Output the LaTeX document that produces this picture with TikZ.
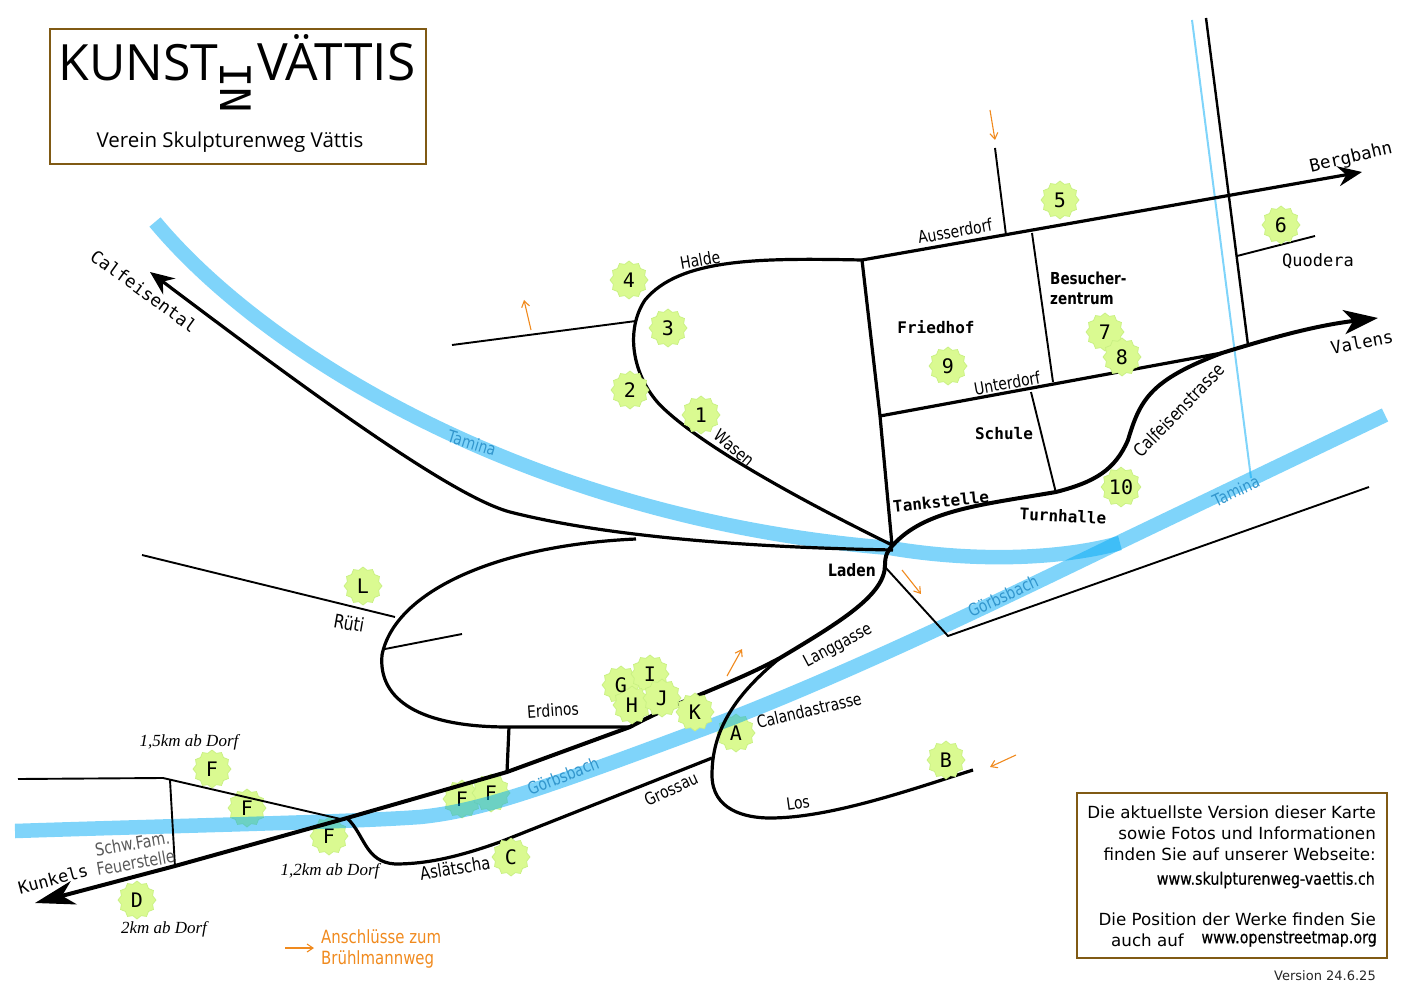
\documentclass[tikz,border=0pt]{standalone}
\usepackage{fontspec}
\usepackage{tikz}
\usetikzlibrary{shapes.geometric, arrows.meta, positioning}
\setmainfont{DejaVu Sans}
\newfontfamily\monofam{DejaVu Sans Mono}
\newfontfamily\titlefam{Open Sans}
\newfontfamily\timesfam{Liberation Serif}
\newfontfamily\condfam[FakeStretch=0.82]{DejaVu Sans}
\newfontfamily\urlfam[FakeStretch=0.84, FakeBold=0.6]{DejaVu Sans}
\newcommand{\fsz}[1]{\fontsize{#1}{#1}\selectfont}
\definecolor{riverblue}{RGB}{0, 169, 245}
\definecolor{riverlabel}{RGB}{50, 150, 205}
\definecolor{boxbrown}{RGB}{128, 90, 20}
\definecolor{hintorange}{RGB}{240, 138, 30}
\definecolor{starfill}{RGB}{218, 250, 145}
\definecolor{starline}{RGB}{200, 240, 130}
\tikzset{
  roadthick/.style={draw=black, line width=4pt},
  roadmid/.style={draw=black, line width=3.2pt},
  roadthin/.style={draw=black, line width=1.9pt},
  riverband/.style={draw=riverblue, draw opacity=0.5, line width=14.5pt},
  hintarrow/.style={draw=hintorange, line width=1.1pt, -{Straight Barb[length=6pt, width=8pt]}},
  workstar/.style={star, star points=12, star point ratio=1.17, minimum size=38pt, inner sep=0pt, fill=starfill, draw=starline, line width=0.7pt, font=\monofam\fsz{20}},
  starletter/.style={inner sep=0pt, font=\monofam\fsz{20}},
  roadlabel/.style={font=\condfam\fsz{17}, inner sep=0pt},
  monolabel/.style={font=\monofam\fsz{17}, inner sep=0pt},
  placelabel/.style={font=\monofam\bfseries\fsz{16}, inner sep=0pt},
  riverlabeltext/.style={font=\condfam\fsz{17}, text=riverlabel, inner sep=0pt},
  kmlabel/.style={font=\timesfam\itshape\fsz{17}, inner sep=0pt},
  infobox/.style={draw=boxbrown, line width=2.2pt},
}
\begin{document}
\begin{tikzpicture}[x=1pt, y=-1pt]
  \useasboundingbox (0,0) rectangle (1414,1000);

  % Stars below the water
  \node[workstar] (starFa) at (247,808) {F};
  \node[workstar] (starFb) at (329,836) {F};
  \node[workstar] (starFc) at (462,799) {F};
  \node[workstar] (starFd) at (491,793) {F};
  \node[workstar] (starA) at (736,733) {A};

  % Water
  \draw[riverband] (155,222) .. controls (270,360) and (540,520) .. (890,548) .. controls (960,560) and (1050,562) .. (1120,543);
  \draw[riverband] (15,831) .. controls (200,825) and (350,822) .. (420,817) .. controls (480,811) and (540,790) .. (727,720) .. controls (860,668) and (1000,600) .. (1120,542) -- (1385,415);
  \draw[draw=riverblue, draw opacity=0.5, line width=2pt] (1192,20) -- (1251,478);

  % Main roads
  \draw[roadthick, {Stealth[length=40pt, width=24pt, inset=12pt]}-{Stealth[length=34pt, width=24pt, inset=9pt]}] (35,903) -- (175,866) -- (340,820) -- (507,772) -- (630,727) .. controls (680,700) and (730,685) .. (780,658) .. controls (840,622) and (885,595) .. (885,565) .. controls (885,555) and (888,550) .. (893,545) .. controls (925,510) and (980,505) .. (1056,492) .. controls (1095,482) and (1115,470) .. (1128,440) .. controls (1140,400) and (1150,380) .. (1222,353) .. controls (1280,335) and (1320,325) .. (1378,318);
  \draw[roadmid, -{Stealth[length=24pt, width=20pt, inset=8pt]}] (893,550) .. controls (780,548) and (620,540) .. (510,512) .. controls (450,496) and (300,385) .. (150,272);
  \draw[roadmid] (636,539) .. controls (500,545) and (395,590) .. (382,655) .. controls (378,700) and (420,727) .. (508,727) -- (630,727);
  \draw[roadmid] (509,727) -- (507,772);
  \draw[roadmid] (862,260) .. controls (760,258) and (680,258) .. (645,300) .. controls (625,330) and (632,375) .. (660,405) .. controls (700,445) and (800,500) .. (892,545);
  \draw[roadmid, -{Stealth[length=24pt, width=20pt, inset=8pt]}] (862,260) -- (1362,172);
  \draw[roadmid] (862,260) -- (880,416) -- (892,545);
  \draw[roadmid] (880,416) -- (1222,353);
  \draw[roadmid] (780,658) .. controls (735,695) and (712,730) .. (712,775) .. controls (712,810) and (745,818) .. (770,818) .. controls (830,818) and (910,790) .. (973,770);
  \draw[roadmid] (712,758) -- (500,842) .. controls (450,860) and (420,864) .. (395,864) .. controls (365,862) and (365,835) .. (347,818);

  % Side roads
  \draw[roadthin] (995,148) -- (1006,235);
  \draw[roadthin] (1032,233) -- (1053,382);
  \draw[roadthin] (1031,392) -- (1056,493);
  \draw[roadmid, line width=2.4pt] (1206,18) -- (1248,345);
  \draw[roadthin] (1237,256) -- (1315,236);
  \draw[roadthin] (452,345) -- (636,321);
  \draw[roadthin] (142,555) -- (395,617);
  \draw[roadthin] (385,649) -- (462,634);
  \draw[roadthin] (886,568) -- (948,636) -- (1369,487);
  \draw[roadthin] (18,779) -- (163,778) -- (345,820);
  \draw[roadthin] (170,780) -- (175,867);

  % Stars above the roads
  \node[workstar] (starFe) at (212,769) {F};
  \node[workstar] (starD) at (137,900) {D};
  \node[workstar] (starC) at (511,857) {C};
  \node[workstar] (starB) at (946,760) {B};
  \node[workstar] (starL) at (363,586) {L};
  \node[workstar] (starG) at (621,685) {};
  \node[workstar] (starI) at (650,674) {};
  \node[workstar] (starH) at (632,705) {};
  \node[workstar] (starJ) at (662,698) {};
  \node[starletter] (letterG) at (starG) {G};
  \node[starletter] (letterI) at (starI) {I};
  \node[starletter] (letterH) at (starH) {H};
  \node[starletter] (letterJ) at (starJ) {J};
  \node[workstar] (starK) at (695,712) {K};
  \node[workstar] (star1) at (701,415) {1};
  \node[workstar] (star2) at (630,390) {2};
  \node[workstar] (star3) at (668,328) {3};
  \node[workstar] (star4) at (629,280) {4};
  \node[workstar] (star5) at (1060,200) {5};
  \node[workstar] (star6) at (1281,225) {6};
  \node[workstar] (star7) at (1105,332) {7};
  \node[workstar] (star8) at (1122,357) {8};
  \node[workstar] (star9) at (948,366) {9};
  \node[workstar] (star10) at (1121,487) {10};

  % Hints
  \draw[hintarrow] (531,330) -- (524,300);
  \draw[hintarrow] (990,110) -- (995,140);
  \draw[hintarrow] (902,570) -- (921,594);
  \draw[hintarrow] (727,676) -- (742,649);
  \draw[hintarrow] (1016,755) -- (990,767);
  \draw[hintarrow] (285,948) -- (314,948);
  \node[font=\condfam\fsz{18.2}, text=hintorange, align=left, anchor=west, inner sep=0pt] (hintText) at (321,949) {Anschlüsse zum\\[3pt]Brühlmannweg};

  % Road names
  \node[roadlabel, rotate=10] (halde) at (700,260) {Halde};
  \node[roadlabel, rotate=-40] (wasen) at (734,448) {Wasen};
  \node[roadlabel, rotate=10] (ausserdorf) at (955,231) {Ausserdorf};
  \node[roadlabel, rotate=10] (unterdorf) at (1007,383) {Unterdorf};
  \node[roadlabel, rotate=46, font=\condfam\fsz{18}] (calfeisenstr) at (1179,410) {Calfeisenstrasse};
  \node[roadlabel, rotate=28] (langgasse) at (838,646) {Langgasse};
  \node[roadlabel, rotate=13] (calanda) at (809,710) {Calandastrasse};
  \node[roadlabel, rotate=8] (los) at (798,803) {Los};
  \node[roadlabel, rotate=25] (grossau) at (671,789) {Grossau};
  \node[roadlabel, rotate=4] (erdinos) at (553,710) {Erdinos};
  \node[roadlabel, rotate=-10, font=\condfam\fsz{19}] (rueti) at (349,623) {Rüti};
  \node[roadlabel, rotate=9, font=\condfam\fsz{18}] (aslaetscha) at (455,868) {Aslätscha};
  \node[roadlabel, rotate=10, text=black!65, align=center, font=\condfam\fsz{17.5}] (feuerstelle) at (134,853) {Schw.Fam.\\[2pt]Feuerstelle};

  \node[monolabel, rotate=-36, font=\monofam\fsz{17.5}] (calfeisental) at (144,291) {Calfeisental};
  \node[monolabel, rotate=13, font=\monofam\fsz{17.5}] (bergbahn) at (1351,158) {Bergbahn};
  \node[monolabel, rotate=11, font=\monofam\fsz{17.5}] (valens) at (1362,342) {Valens};
  \node[monolabel, rotate=15] (kunkels) at (53,879) {Kunkels};
  \node[monolabel] (quodera) at (1318,261) {Quodera};

  \node[placelabel] (friedhof) at (936,327) {Friedhof};
  \node[placelabel] (schule) at (1004,434) {Schule};
  \node[placelabel, rotate=6] (tankstelle) at (941,502) {Tankstelle};
  \node[placelabel, rotate=-3] (turnhalle) at (1063,516) {Turnhalle};
  \node[placelabel, font=\condfam\bfseries\fsz{17}] (laden) at (852,570) {Laden};
  \node[placelabel, font=\condfam\bfseries\fsz{16.5}, align=left, anchor=north west] (besucher) at (1050,272) {Besucher-\\[3pt]zentrum};

  \node[riverlabeltext, rotate=-17] (taminaA) at (472,443) {Tamina};
  \node[riverlabeltext, rotate=25] (taminaB) at (1236,491) {Tamina};
  \node[riverlabeltext, rotate=25] (goerbsA) at (1003,596) {Görbsbach};
  \node[riverlabeltext, rotate=22] (goerbsB) at (563,776) {Görbsbach};

  \node[kmlabel] (kmA) at (189,742) {1,5km ab Dorf};
  \node[kmlabel] (kmB) at (330,871) {1,2km ab Dorf};
  \node[kmlabel] (kmC) at (164,929) {2km ab Dorf};

  % Title box
  \node[infobox, minimum width=376pt, minimum height=135pt, anchor=north west] (titleBox) at (49,28) {};
  \node[font=\titlefam\fsz{50}, anchor=base west, inner sep=0pt] (titleA) at (58.5,81) {KUNST};
  \node[font=\titlefam\fsz{51.5}, anchor=base west, inner sep=0pt] (titleB) at (257,81) {VÄTTIS};
  \node[font=\monofam\fsz{42}, rotate=-90, inner sep=0pt] (titleIn) at (236,88) {IN};
  \node[font=\titlefam\fsz{20.5}, inner sep=0pt] (titleSub) at (230,142) {Verein Skulpturenweg Vättis};

  % Info box
  \node[infobox, minimum width=310pt, minimum height=165pt, anchor=north west] (infoBox) at (1076,792) {};
  \node[font=\fsz{16.7}, align=right, anchor=north east, inner sep=0pt] (infoA) at (1376,806) {Die aktuellste Version dieser Karte\\[4.3pt]sowie Fotos und Informationen\\[4.3pt]finden Sie auf unserer Webseite:};
  \node[font=\urlfam\fsz{17}, anchor=east, inner sep=0pt] (infoUrlA) at (1375,880) {www.skulpturenweg-vaettis.ch};
  \node[font=\fsz{16.7}, anchor=east, inner sep=0pt] (infoB) at (1376,919) {Die Position der Werke finden Sie};
  \node[font=\fsz{16.7}, anchor=west, inner sep=0pt] (infoC) at (1111,940) {auch auf};
  \node[font=\urlfam\fsz{17}, anchor=east, inner sep=0pt] (infoUrlB) at (1377,939) {www.openstreetmap.org};
  \node[font=\fsz{13}, text=black!85, inner sep=0pt] (version) at (1325,976) {Version 24.6.25};
\end{tikzpicture}
\end{document}
